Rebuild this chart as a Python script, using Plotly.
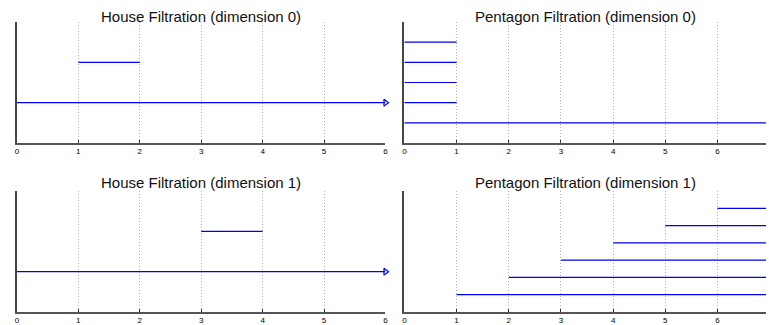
import plotly.graph_objects as go

# ---- data ----
INF = float("inf")
house0_birth = [0, 1]
house0_death = [INF, 2]
house1_birth = [0, 3]
house1_death = [INF, 4]
pent0_birth = [0, 0, 0, 0, 0]
pent0_death = [INF, 1, 1, 1, 1]
pent1_birth = [1, 2, 3, 4, 5, 6]
pent1_death = [INF, INF, INF, INF, INF, INF]

titles = ["House Filtration (dimension 0)", "Pentagon Filtration (dimension 0)",
          "House Filtration (dimension 1)", "Pentagon Filtration (dimension 1)"]
tick_vals = [0, 1, 2, 3, 4, 5, 6]
tick_text = ["0", "1", "2", "3", "4", "5", "6"]

panels = [
    dict(b=house0_birth, d=house0_death, xmax=6, inf_end=6, arrow=True, ymax=3),
    dict(b=pent0_birth, d=pent0_death, xmax=6.93, inf_end=7, arrow=False, ymax=6),
    dict(b=house1_birth, d=house1_death, xmax=6, inf_end=6, arrow=True, ymax=3),
    dict(b=pent1_birth, d=pent1_death, xmax=6.93, inf_end=7, arrow=False, ymax=7),
]

W, H = 769, 325
xdoms = [(15 / W, 386 / W), (405 / W, 1.0)]
ydoms = [((325 - 143) / H, (325 - 22) / H), ((325 - 312) / H, (325 - 191) / H)]
title_y_px = [17, 182]

fig = go.Figure()
line_color = "#0000ee"

for i, p in enumerate(panels):
    ax = "" if i == 0 else str(i + 1)
    xref, yref = "x" + ax, "y" + ax
    for k, (b, d) in enumerate(zip(p["b"], p["d"])):
        y = k + 1
        end = p["inf_end"] if d == INF else d
        fig.add_trace(go.Scatter(x=[b, end], y=[y, y], mode="lines",
                                 line=dict(color=line_color, width=1.2),
                                 xaxis=xref, yaxis=yref, showlegend=False,
                                 hoverinfo="skip", cliponaxis=True))
        if d == INF and p["arrow"]:
            fig.add_trace(go.Scatter(x=[end], y=[y], mode="markers",
                                     marker=dict(symbol="triangle-right-open", size=6,
                                                 color=line_color, line=dict(width=1.2, color=line_color)),
                                     xaxis=xref, yaxis=yref, showlegend=False,
                                     hoverinfo="skip", cliponaxis=False))
    col = i % 2
    row = i // 2
    fig.layout["xaxis" + ax] = dict(
        domain=xdoms[col], anchor=yref, range=[0, p["xmax"]],
        tickmode="array", tickvals=tick_vals, ticktext=tick_text,
        tickfont=dict(size=8, color="black", family="Liberation Sans, Arial"),
        ticks="inside", ticklen=3, tickcolor="#333",
        showline=True, linecolor="#555", linewidth=1.5,
        showgrid=True, gridcolor="#b0b0b0", griddash="1px,2px", gridwidth=1,
        zeroline=False, fixedrange=True,
    )
    fig.layout["yaxis" + ax] = dict(
        domain=ydoms[row], anchor=xref, range=[0, p["ymax"]],
        showticklabels=False, ticks="", showgrid=False, zeroline=False,
        showline=True, linecolor="#444", linewidth=2, fixedrange=True,
    )
    xc = (xdoms[col][0] + xdoms[col][1]) / 2
    fig.add_annotation(text=titles[i], x=xc, y=1 - title_y_px[row] / H,
                       xref="paper", yref="paper",
                       xanchor="center", yanchor="middle", showarrow=False,
                       font=dict(size=15, color="#111", family="Liberation Sans, Arial"))

fig.update_layout(width=W, height=H, margin=dict(l=0, r=0, t=0, b=0),
                  paper_bgcolor="white", plot_bgcolor="white")
fig.write_html("out.html")
